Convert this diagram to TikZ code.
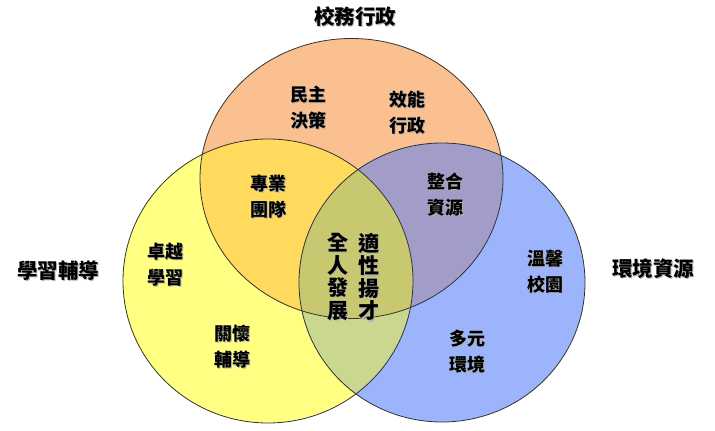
\documentclass[tikz,border=0pt]{standalone}
\usepackage{fontspec}
\newfontfamily\cjk{Noto Sans CJK TC}
\definecolor{cO}{HTML}{FAC090}
\definecolor{cY}{HTML}{FFFF82}
\definecolor{cB}{HTML}{9CB4FC}
\definecolor{cOY}{HTML}{FFDA5C}
\definecolor{cOB}{HTML}{A19CC8}
\definecolor{cYB}{HTML}{C9D88E}
\definecolor{cC}{HTML}{C8C870}
\newcommand\shd[1]{\leavevmode\rlap{\hspace{1.3pt}\raisebox{-1.3pt}{\textcolor{black!30}{#1}}}#1}
\tikzset{
  ring/.style={draw=black!80, line width=0.8pt},
  lbl/.style={font=\cjk\bfseries\fontsize{18}{26}\selectfont, align=center, inner sep=0pt},
  ttl/.style={font=\cjk\bfseries\fontsize{20.5}{24}\selectfont, inner sep=0pt},
  col/.style={font=\cjk\bfseries\fontsize{21}{22.5}\selectfont, align=center, inner sep=0pt},
}
\begin{document}
\begin{tikzpicture}[x=1pt,y=-1pt]
\useasboundingbox (0,0) rectangle (715,431);
\def\Tc{(351.5,178.5) ellipse [x radius=151.5, y radius=140]}
\def\Lc{(268,281) ellipse [x radius=145, y radius=142]}
\def\Rc{(442,282.5) ellipse [x radius=143, y radius=139.5]}
\fill[cO] \Tc;
\fill[cY] \Lc;
\fill[cB] \Rc;
\begin{scope}\clip \Tc; \fill[cOY] \Lc; \end{scope}
\begin{scope}\clip \Tc; \fill[cOB] \Rc; \end{scope}
\begin{scope}\clip \Lc; \fill[cYB] \Rc; \end{scope}
\begin{scope}\clip \Tc; \clip \Lc; \fill[cC] \Rc; \end{scope}
\draw[ring] \Tc;
\draw[ring] \Lc;
\draw[ring] \Rc;
% titles
\node[ttl] (tTop) at (355,17) {\shd{校務行政}};
\node[ttl] (tLeft) at (58,271) {\shd{學習輔導}};
\node[ttl] (tRight) at (653,269) {\shd{環境資源}};
% labels
\node[lbl] (mz) at (308,108) {\shd{民主}\\\shd{決策}};
\node[lbl] (xn) at (407,113) {\shd{效能}\\\shd{行政}};
\node[lbl] (zy) at (268,197) {\shd{專業}\\\shd{團隊}};
\node[lbl] (zh) at (445,195) {\shd{整合}\\\shd{資源}};
\node[lbl] (zj) at (165,265) {\shd{卓越}\\\shd{學習}};
\node[lbl] (wx) at (545,272) {\shd{溫馨}\\\shd{校園}};
\node[lbl] (gh) at (232,347) {\shd{關懷}\\\shd{輔導}};
\node[lbl] (dy) at (467,352) {\shd{多元}\\\shd{環境}};
\node[col] (qr) at (338,277.5) {\shd{全}\\\shd{人}\\\shd{發}\\\shd{展}};
\node[col] (sx) at (369,277.5) {\shd{適}\\\shd{性}\\\shd{揚}\\\shd{才}};
\end{tikzpicture}
\end{document}
